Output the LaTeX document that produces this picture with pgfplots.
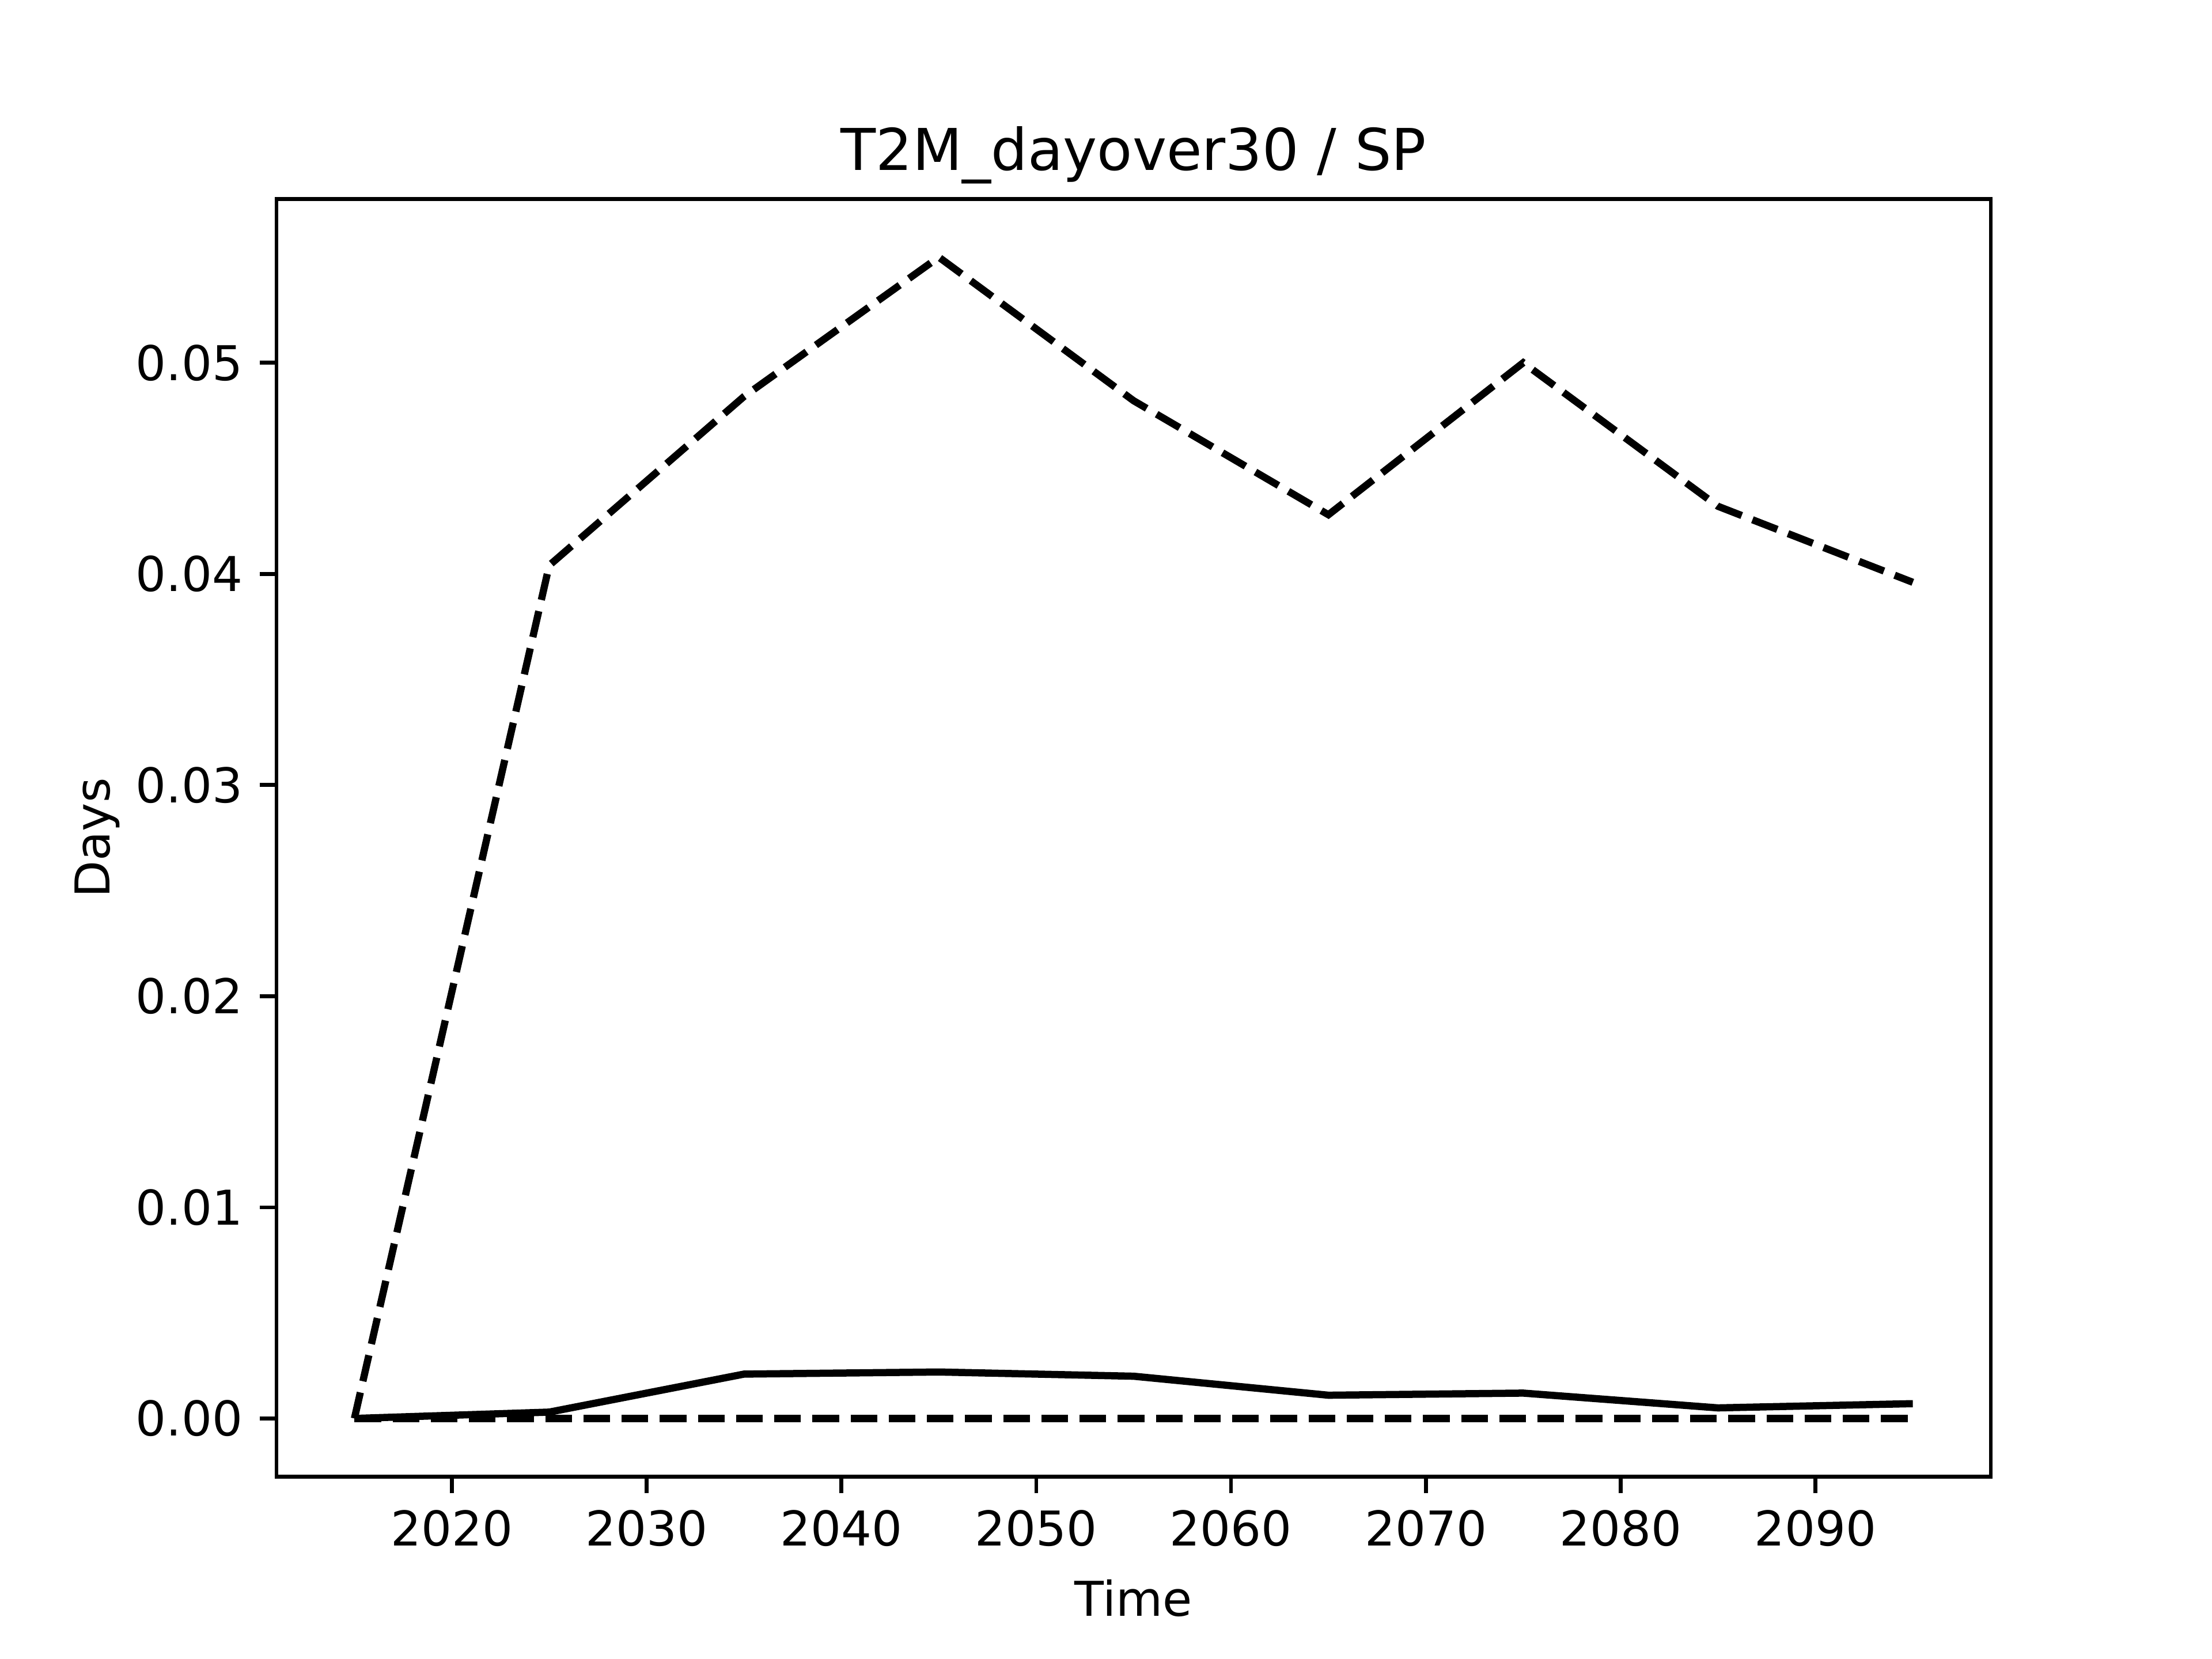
\documentclass[border=0pt]{standalone}
\usepackage{pgfplots}
\pgfplotsset{compat=1.18}
\usepackage{fontspec}
\setmainfont{DejaVu Sans}
\begin{document}
\begin{tikzpicture}
\path (-57.6pt,-38.016pt) rectangle (403.2pt,307.584pt);
\begin{axis}[
at={(0pt,0pt)}, anchor=south west,
scale only axis,
width=357.12pt, height=266.112pt,
xmin=2011, xmax=2099,
ymin=-0.00275, ymax=0.05775,
xtick={2020,2030,...,2090},
ytick={0,0.01,0.02,0.03,0.04,0.05},
scaled y ticks=false,
yticklabel style={/pgf/number format/fixed, /pgf/number format/fixed zerofill, /pgf/number format/precision=2},
xticklabel style={/pgf/number format/set thousands separator={}},
/pgf/number format/assume math mode=true,
tick label style={font=\fontsize{10}{12}\selectfont},
label style={font=\fontsize{10}{12}\selectfont},
title style={font=\fontsize{12}{14}\selectfont, yshift=-6.3pt},
title={T2M\_dayover30 / SP},
xlabel={Time}, ylabel={Days},
ylabel shift=-3.5pt,
axis line style={line width=0.8pt},
every tick/.style={black, line width=0.8pt},
tick align=outside, major tick length=3.5pt,
xtick pos=bottom, ytick pos=left,
]
\addplot[black, line width=1.5pt, dash pattern=on 5.55pt off 2.4pt] coordinates {
(2015,0) (2025,0) (2035,0) (2045,0) (2055,0) (2065,0) (2075,0) (2085,0) (2095,0)};
\addplot[black, line width=1.5pt] coordinates {
(2015,0.0000) (2025,0.0003) (2035,0.0021) (2045,0.0022) (2055,0.0020) (2065,0.0011) (2075,0.0012) (2085,0.0005) (2095,0.0007)};
\addplot[black, line width=1.5pt, dash pattern=on 5.55pt off 2.4pt] coordinates {
(2015,0.0000) (2025,0.0404) (2035,0.0484) (2045,0.0550) (2055,0.0482) (2065,0.0428) (2075,0.0500) (2085,0.0432) (2095,0.0396)};
\end{axis}
\end{tikzpicture}
\end{document}
